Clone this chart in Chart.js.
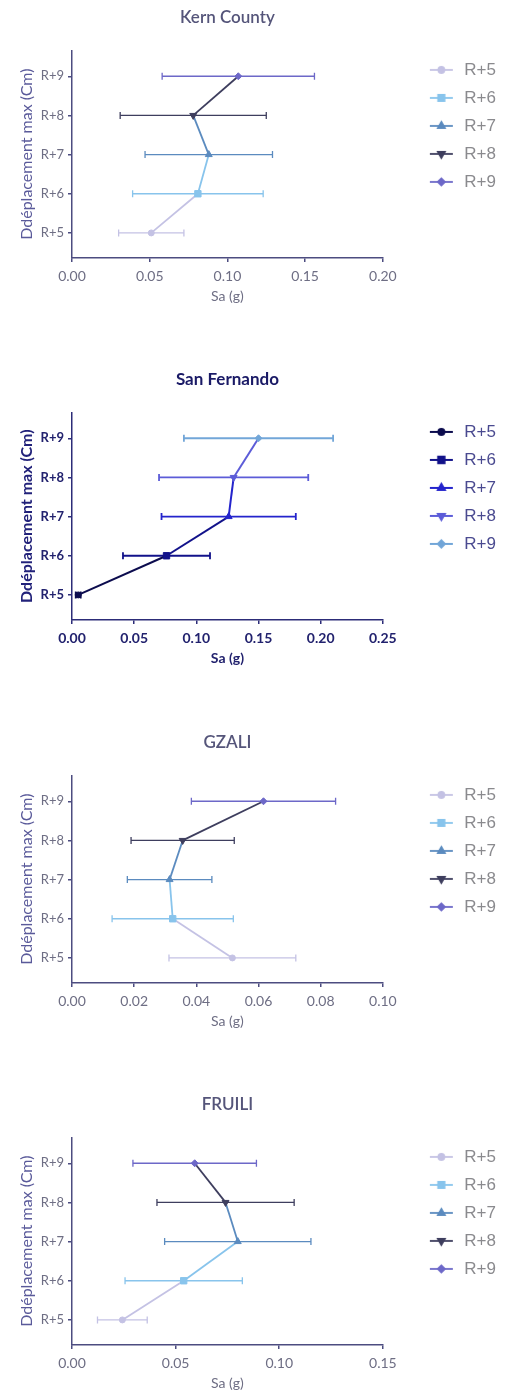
<!DOCTYPE html>
<html>
<head>
<meta charset="utf-8">
<script src="https://cdn.jsdelivr.net/npm/chart.js@4.4.0/dist/chart.umd.min.js"></script>
<style>
  body { margin: 0; width: 508px; height: 1395px; overflow: hidden; background: #fff; position: relative; }
  .panel { position: absolute; left: 0; width: 508px; height: 310px; }
</style>
</head>
<body>
<div class="panel" style="top:0px"><canvas id="kern" width="508" height="310"></canvas></div>
<div class="panel" style="top:362px"><canvas id="sanfernando" width="508" height="310"></canvas></div>
<div class="panel" style="top:725px"><canvas id="gzali" width="508" height="310"></canvas></div>
<div class="panel" style="top:1087px"><canvas id="fruili" width="508" height="310"></canvas></div>
<script>
// storeys on the y axis
const storeys = ['R+5', 'R+6', 'R+7', 'R+8', 'R+9'];

// Sa (g) means and SD
const kernMean = [0.051, 0.081, 0.088, 0.078, 0.107];
const kernSd = [0.021, 0.042, 0.041, 0.047, 0.049];

const sfMean = [0.005, 0.076, 0.126, 0.130, 0.150];
const sfSd = [0.002, 0.035, 0.054, 0.060, 0.060];

const gzaliMean = [0.0516, 0.0324, 0.0314, 0.0356, 0.0616];
const gzaliSd = [0.0204, 0.0195, 0.0136, 0.0166, 0.0232];

const fruiliMean = [0.0243, 0.0539, 0.0800, 0.0741, 0.0592];
const fruiliSd = [0.0120, 0.0283, 0.0353, 0.0331, 0.0298];

const paleColors = ['#c4c2e4', '#88c4ec', '#5b8bbf', '#3e3e5e', '#6d68c8'];
const navyColors = ['#0c0c4e', '#12128a', '#2424cc', '#5c5cd8', '#72a6d8'];
const shapes = ['circle', 'rect', 'triangle', 'triangle', 'rectRot'];
const rotations = [0, 0, 0, 180, 0];
const radii = [3, 4.5, 4, 4, 3.5];

const drawPoint = Chart.helpers && Chart.helpers.drawPoint;

function legendSymbol(color, i, lw) {
  const c = document.createElement('canvas');
  c.width = 62; c.height = 14;
  const g = c.getContext('2d');
  g.strokeStyle = color;
  g.fillStyle = color;
  g.lineWidth = lw;
  g.beginPath();
  g.moveTo(36, 7); g.lineTo(59, 7);
  g.stroke();
  if (drawPoint) {
    drawPoint(g, { pointStyle: shapes[i], rotation: rotations[i], radius: radii[i], borderWidth: 1 }, 47.5, 7);
  } else {
    g.beginPath(); g.arc(47.5, 7, 3, 0, Math.PI * 2); g.fill();
  }
  return c;
}

function drawPanel(id, opt) {
  const colors = opt.colors;
  const datasets = [];

  // mean markers first so they sit on top
  storeys.forEach((s, i) => {
    datasets.push({
      label: s,
      data: [{ x: opt.mean[i], y: i }],
      pointStyle: shapes[i],
      pointRotation: rotations[i],
      pointRadius: radii[i],
      backgroundColor: colors[i],
      borderColor: colors[i],
      pointBorderWidth: 1
    });
  });

  // line joining the means, each segment in the colour of the lower storey
  datasets.push({
    label: 'trend',
    data: opt.mean.map((m, i) => ({ x: m, y: i })),
    showLine: true,
    borderWidth: opt.lineWidth,
    borderColor: colors[0],
    pointRadius: 0,
    segment: { borderColor: c => colors[c.p0DataIndex] }
  });

  // horizontal SD bars with caps
  storeys.forEach((s, i) => {
    datasets.push({
      label: s + ' SD',
      data: [{ x: opt.mean[i] - opt.sd[i], y: i }, { x: opt.mean[i] + opt.sd[i], y: i }],
      showLine: true,
      borderColor: colors[i],
      borderWidth: opt.barWidth,
      pointStyle: 'line',
      pointRotation: 90,
      pointRadius: 3.5,
      pointBorderWidth: opt.barWidth,
      pointBorderColor: colors[i]
    });
  });

  const weight = opt.bold ? 'bold' : 'normal';

  new Chart(document.getElementById(id), {
    type: 'scatter',
    data: { datasets },
    options: {
      responsive: false,
      animation: false,
      devicePixelRatio: 1,
      layout: { padding: { left: 0, right: 2, top: 0, bottom: 0 } },
      plugins: {
        title: {
          display: true,
          text: opt.title,
          fullSize: false,
          color: opt.titleColor,
          font: { family: 'Lato', size: 17, weight: opt.bold ? 'bold' : '600' },
          padding: { top: 7, bottom: 23 }
        },
        legend: {
          position: 'right',
          align: 'start',
          fullSize: false,
          onClick: null,
          labels: {
            usePointStyle: true,
            pointStyleWidth: 62,
            padding: 11,
            color: opt.legendColor,
            font: { family: 'Liberation Sans', size: 17 },
            generateLabels: () => storeys.map((s, i) => ({
              text: s,
              pointStyle: legendSymbol(colors[i], i, opt.lineWidth),
              fillStyle: colors[i],
              strokeStyle: colors[i],
              lineWidth: 0,
              hidden: false,
              datasetIndex: i,
              fontColor: opt.legendColor
            }))
          }
        },
        tooltip: { enabled: false }
      },
      scales: {
        x: {
          type: 'linear',
          min: 0,
          max: opt.xMax,
          afterFit: s => { s.height = 52; },
          ticks: {
            stepSize: opt.step,
            padding: 6,
            color: opt.textColor,
            font: { family: 'Lato', size: 14, weight },
            callback: v => v.toFixed(2)
          },
          grid: { drawOnChartArea: false, tickLength: 4, color: opt.axisColor, lineWidth: 1.5 },
          border: { color: opt.axisColor, width: 1.5 },
          title: {
            display: true,
            text: 'Sa (g)',
            color: opt.textColor,
            font: { family: 'Lato', size: 14, weight },
            padding: { top: 0, bottom: 5 }
          }
        },
        y: {
          type: 'linear',
          min: -0.64,
          max: 4.66,
          afterFit: s => { s.width = 72; },
          afterBuildTicks: s => { s.ticks = storeys.map((_, i) => ({ value: i })); },
          ticks: {
            padding: 4,
            color: opt.textColor,
            font: { family: 'Lato', size: 13, weight },
            callback: v => storeys[v]
          },
          grid: { drawOnChartArea: false, tickLength: 4, color: opt.axisColor, lineWidth: 1.5 },
          border: { color: opt.axisColor, width: 1.5 },
          title: {
            display: true,
            text: 'Ddéplacement max (Cm)',
            color: opt.yTitleColor,
            font: { family: 'Lato', size: 16, weight },
            padding: { top: 17, bottom: 0 }
          }
        }
      }
    }
  });
}

const paleStyle = {
  colors: paleColors, bold: false, lineWidth: 1.8, barWidth: 1.3,
  titleColor: '#55557a', textColor: '#6e6e84', yTitleColor: '#5a5a9a',
  legendColor: '#8a8a8e', axisColor: '#4c4c80'
};

drawPanel('kern', Object.assign({}, paleStyle, {
  title: 'Kern County', mean: kernMean, sd: kernSd, xMax: 0.2, step: 0.05
}));

drawPanel('sanfernando', {
  title: 'San Fernando', mean: sfMean, sd: sfSd, xMax: 0.25, step: 0.05,
  colors: navyColors, bold: true, lineWidth: 2, barWidth: 1.8,
  titleColor: '#1a1a66', textColor: '#22226e', yTitleColor: '#22227a',
  legendColor: '#4a4a90', axisColor: '#2c2c78'
});

drawPanel('gzali', Object.assign({}, paleStyle, {
  title: 'GZALI', mean: gzaliMean, sd: gzaliSd, xMax: 0.1, step: 0.02
}));

drawPanel('fruili', Object.assign({}, paleStyle, {
  title: 'FRUILI', mean: fruiliMean, sd: fruiliSd, xMax: 0.15, step: 0.05
}));
</script>
</body>
</html>
